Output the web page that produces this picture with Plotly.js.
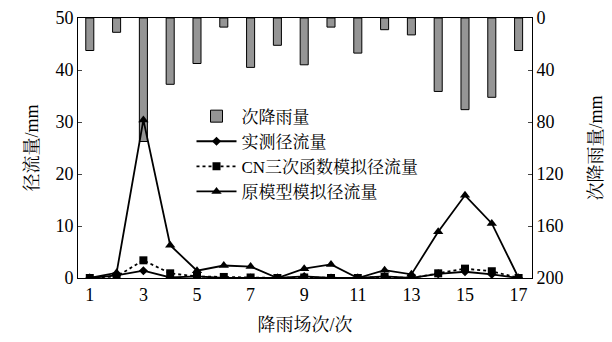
<!DOCTYPE html>
<html><head><meta charset="utf-8">
<script src="https://cdn.plot.ly/plotly-3.0.1.min.js"></script>
<style>html,body{margin:0;padding:0;background:#fff}#c{width:612px;height:342px}</style>
</head><body><div id="c"></div>
<script>
const events = [1,2,3,4,5,6,7,8,9,10,11,12,13,14,15,16,17];
const rainfall = [25,11,95,51,35,7,38,21,36,7,27,9,13,56.5,70.5,61,25];
const observed = [0,0.5,1.4,0.1,0.3,0,0,0,0.3,0,0,0.3,0,0.8,1.2,0.7,0];
const cnCubic = [0,0.3,3.4,0.9,0.3,0.2,0.1,0,0.1,0,0,0.2,0,0.9,1.8,1.3,0];
const original = [0,1.0,30.4,6.3,1.4,2.4,2.2,0,1.8,2.6,0,1.5,0.7,8.9,15.9,10.5,0];
const xTicks = [1,3,5,7,9,11,13,15,17];
const names = ['次降雨量','实测径流量','CN三次函数模拟径流量','原模型模拟径流量'];

const F = 'Liberation Serif, "Noto Serif CJK SC", "Noto Sans CJK SC", serif';
const data = [
  {type:'bar', x:events, y:rainfall, name:names[0], yaxis:'y', width:0.3,
   marker:{color:'#959595', line:{color:'#000', width:1}}},
  {type:'scatter', mode:'lines+markers', x:events, y:observed, name:names[1], yaxis:'y2',
   line:{color:'#000', width:1.8}, marker:{symbol:'diamond', size:7, color:'#000'}},
  {type:'scatter', mode:'lines+markers', x:events, y:cnCubic, name:names[2], yaxis:'y2',
   line:{color:'#000', width:1.8, dash:'dot'}, marker:{symbol:'square', size:8, color:'#000'}},
  {type:'scatter', mode:'lines+markers', x:events, y:original, name:names[3], yaxis:'y2',
   line:{color:'#000', width:1.8}, marker:{symbol:'triangle-up', size:9, color:'#000'}}
];
const layout = {
  width:612, height:342, margin:{l:78, r:80, t:18, b:64},
  paper_bgcolor:'#fff', plot_bgcolor:'#fff',
  font:{family:F, size:18, color:'#000'},
  showlegend:true,
  legend:{x:0.25, y:0.69, xanchor:'left', yanchor:'top', bgcolor:'rgba(0,0,0,0)',
          font:{family:F, size:17}, tracegroupgap:0, itemwidth:40},
  xaxis:{range:[0.56,17.5], tickvals:xTicks, ticktext:xTicks.map(String), ticks:'',
         showline:true, linecolor:'#000', linewidth:1, mirror:true, showgrid:false, zeroline:false,
         tickfont:{size:18}, title:{text:'降雨场次/次', font:{size:18}, standoff:14}},
  yaxis:{side:'right', range:[200,0], tickvals:[0,40,80,120,160,200], ticks:'inside', ticklen:4,
         showline:true, linecolor:'#000', linewidth:1, showgrid:false, zeroline:false,
         tickfont:{size:18}, title:{text:'次降雨量/mm', font:{size:18}, standoff:26}},
  yaxis2:{side:'left', overlaying:'y', range:[0,50], tickvals:[0,10,20,30,40,50], ticks:'inside', ticklen:4,
         showline:true, linecolor:'#000', linewidth:1, showgrid:false, zeroline:false,
         tickfont:{size:18}, title:{text:'径流量/mm', font:{size:18}, standoff:12}}
};
Plotly.newPlot('c', data, layout, {displayModeBar:false, staticPlot:true});
</script></body></html>
